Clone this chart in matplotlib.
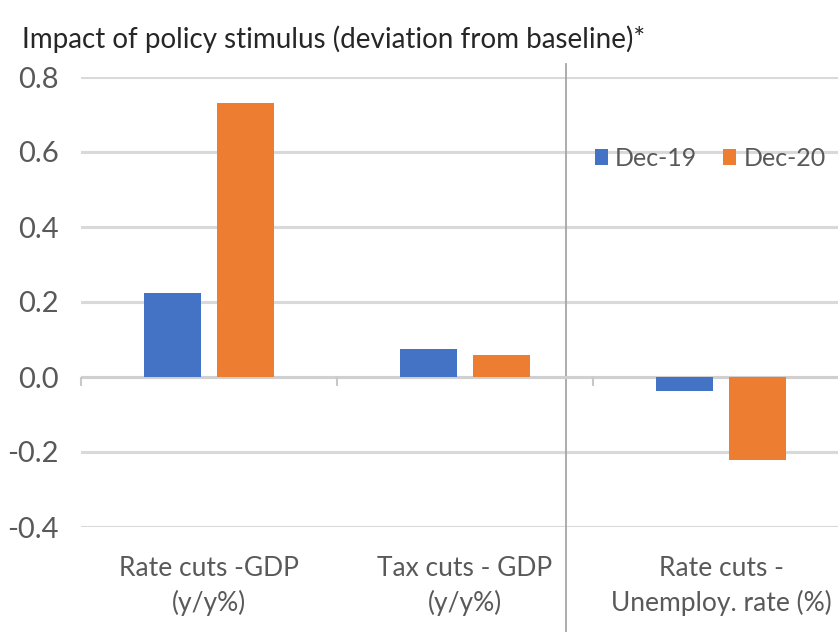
import matplotlib
matplotlib.use("Agg")
import matplotlib.pyplot as plt
import numpy as np

# Data
categories = ["Rate cuts -GDP\n(y/y%)", "Tax cuts - GDP\n(y/y%)", "Rate cuts -\nUnemploy. rate (%)"]
series_names = ["Dec-19", "Dec-20"]
dec19 = [0.225, 0.075, -0.037]
dec20 = [0.73, 0.06, -0.22]
y_ticks = [-0.4, -0.2, 0.0, 0.2, 0.4, 0.6, 0.8]
title = "Impact of policy stimulus (deviation from baseline)*"

colors = ["#4472C4", "#ED7D31"]

plt.rcParams["font.family"] = ["Lato", "DejaVu Sans"]

fig = plt.figure(figsize=(8.38, 6.32), dpi=100)
W, H = 838, 632
ax = fig.add_axes([81 / W, 1 - 527 / H, (849 - 81) / W, (527 - 77) / H])

x = np.arange(len(categories))
width = 0.222
offset = 0.141
ax.bar(x - offset, dec19, width, color=colors[0], label=series_names[0], zorder=3)
ax.bar(x + offset, dec20, width, color=colors[1], label=series_names[1], zorder=3)

ax.set_xlim(-0.5, len(categories) - 0.5)
ax.set_ylim(y_ticks[0], y_ticks[-1])
ax.set_yticks(y_ticks)
ax.set_yticklabels([f"{v:.1f}" for v in y_ticks])
ax.yaxis.grid(True, color="#d9d9d9", linewidth=2.2, zorder=0)
ax.set_axisbelow(True)

for s in ax.spines.values():
    s.set_visible(False)

# category axis at zero with boundary tick marks
ax.axhline(0, color="#d0d0d0", linewidth=2.2, zorder=2)
bounds = np.arange(len(categories) + 1) - 0.5
ax.vlines(bounds, -0.024, 0, color="#c8c8c8", linewidth=1.5, zorder=2, clip_on=False)

ax.set_xticks(x)
ax.set_xticklabels(categories, linespacing=1.4)
ax.tick_params(axis="x", length=0, pad=21, labelsize=19, labelcolor="#595959")
ax.tick_params(axis="y", length=0, pad=16, labelsize=21, labelcolor="#595959")
for lbl in ax.get_xticklabels()[-1:]:
    lbl.set_x(lbl.get_position()[0] - 0.03)

# divider between GDP and unemployment panels
ax.axvline(1.395, ymin=-0.25, ymax=1.03, color="#a6a6a6", linewidth=1.3, clip_on=False, zorder=1)

leg = ax.legend(loc="upper left", bbox_to_anchor=(0.656, 0.867), ncol=2, frameon=False,
                fontsize=18, handlelength=0.52, handleheight=0.55, handletextpad=0.28,
                columnspacing=1.05, borderaxespad=0)
for t in leg.get_texts():
    t.set_color("#595959")

fig.text(22 / W, 1 - 48 / H, title, fontsize=20, color="#262626", va="baseline", ha="left")

fig.savefig("out.png", dpi=100, facecolor="white")
